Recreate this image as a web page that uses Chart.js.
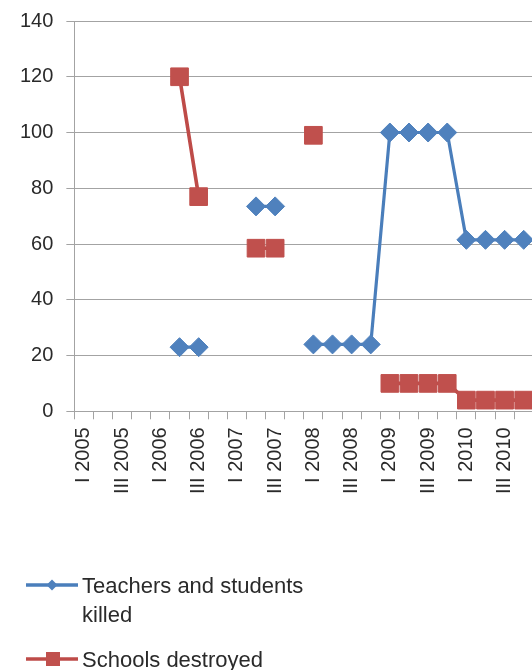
<!DOCTYPE html>
<html>
<head>
<meta charset="utf-8">
<script src="https://cdn.jsdelivr.net/npm/chart.js@4/dist/chart.umd.min.js"></script>
<style>
  html, body { margin: 0; padding: 0; background: #ffffff; overflow: hidden; }
  #wrap { position: relative; width: 532px; height: 670px; overflow: hidden; }
</style>
</head>
<body>
<div id="wrap"><canvas id="c" width="556" height="670"></canvas></div>
<script>
// ---- data ----
const categories = [
  "I 2005","II 2005","III 2005","IV 2005",
  "I 2006","II 2006","III 2006","IV 2006",
  "I 2007","II 2007","III 2007","IV 2007",
  "I 2008","II 2008","III 2008","IV 2008",
  "I 2009","II 2009","III 2009","IV 2009",
  "I 2010","II 2010","III 2010","IV 2010"
];
const teachersKilled = [null,null,null,null, null,23,23,null, null,73.5,73.5,null, 24,24,24,24, 100,100,100,100, 61.5,61.5,61.5,61.5];
const schoolsDestroyed = [null,null,null,null, null,120,77,null, null,58.5,58.5,null, 99,null,null,null, 10,10,10,10, 4,4,4,4];
const seriesLabels = ["Teachers and students killed", "Schools destroyed"];
const yTicks = [0, 20, 40, 60, 80, 100, 120, 140];

const BLUE = "#4A7EBB";
const BLUE_FILL = "#4F81BD";
const RED = "#BE4B48";
const RED_FILL = "#C0504D";
const GRID = "#a3a3a3";
const TEXT = "#2a2a2a";
const FONT = "Liberation Sans";

// legend drawn on canvas with word wrap
const legendPlugin = {
  id: "wrapLegend",
  afterDraw(chart) {
    const ctx = chart.ctx;
    ctx.save();
    ctx.font = "22px '" + FONT + "'";
    ctx.fillStyle = TEXT;
    ctx.textBaseline = "alphabetic";
    ctx.textAlign = "left";
    const items = chart.data.datasets;
    const startY = [585, 659];
    items.forEach((ds, k) => {
      const cy = startY[k];
      ctx.strokeStyle = ds.borderColor;
      ctx.lineWidth = 3.5;
      ctx.beginPath();
      ctx.moveTo(26, cy);
      ctx.lineTo(78, cy);
      ctx.stroke();
      ctx.fillStyle = ds.pointBackgroundColor;
      ctx.beginPath();
      if (ds.pointStyle === "rectRot") {
        const r = 5.5;
        ctx.moveTo(52 - r, cy); ctx.lineTo(52, cy - r); ctx.lineTo(52 + r, cy); ctx.lineTo(52, cy + r);
        ctx.closePath();
      } else {
        ctx.rect(53 - 7, cy - 7, 14, 14);
      }
      ctx.fill();
      // text with wrap
      ctx.fillStyle = TEXT;
      const words = ds.label.split(" ");
      const lines = [];
      let cur = "";
      words.forEach(w => {
        const t = cur ? cur + " " + w : w;
        if (ctx.measureText(t).width > 245 && cur) { lines.push(cur); cur = w; }
        else cur = t;
      });
      if (cur) lines.push(cur);
      lines.forEach((ln, j) => ctx.fillText(ln, 82, cy + 7.5 + j * 29));
    });
    ctx.restore();
  }
};

new Chart(document.getElementById("c"), {
  type: "line",
  data: {
    labels: categories,
    datasets: [
      {
        label: seriesLabels[0],
        data: teachersKilled,
        borderColor: BLUE,
        backgroundColor: BLUE_FILL,
        pointBackgroundColor: BLUE_FILL,
        pointBorderColor: BLUE_FILL,
        pointBorderWidth: 1,
        pointStyle: "rectRot",
        pointRadius: 9.5,
        borderWidth: 3.2,
        spanGaps: false,
        tension: 0,
        order: 1
      },
      {
        label: seriesLabels[1],
        data: schoolsDestroyed,
        borderColor: RED,
        backgroundColor: RED_FILL,
        pointBackgroundColor: RED_FILL,
        pointBorderColor: RED_FILL,
        pointBorderWidth: 1,
        pointStyle: "rect",
        pointRadius: 12.5,
        borderWidth: 3.6,
        spanGaps: false,
        tension: 0,
        order: 0
      }
    ]
  },
  options: {
    responsive: false,
    animation: false,
    devicePixelRatio: 1,
    layout: { padding: { left: 7, right: 0, top: 21, bottom: 168 } },
    plugins: {
      legend: { display: false },
      tooltip: { enabled: false }
    },
    scales: {
      x: {
        type: "category",
        offset: true,
        grid: {
          offset: true,
          drawOnChartArea: false,
          drawTicks: true,
          tickLength: 8,
          color: GRID,
          lineWidth: 1
        },
        border: { display: true, color: GRID, width: 1 },
        ticks: {
          autoSkip: false,
          minRotation: 90,
          maxRotation: 90,
          padding: 8,
          color: TEXT,
          font: { family: FONT, size: 20 },
          callback: function(value, index) {
            return index % 2 === 0 ? categories[index] : "";
          }
        }
      },
      y: {
        min: yTicks[0],
        max: yTicks[yTicks.length - 1],
        afterBuildTicks: (axis) => { axis.ticks = yTicks.map(v => ({ value: v })); },
        afterFit: (axis) => { axis.paddingTop = 0; axis.paddingBottom = 0; },
        grid: {
          color: GRID,
          lineWidth: 1,
          drawTicks: true,
          tickLength: 8
        },
        border: { display: true, color: GRID, width: 1 },
        ticks: {
          padding: 13,
          color: TEXT,
          font: { family: FONT, size: 20 }
        }
      }
    }
  },
  plugins: [legendPlugin]
});
</script>
</body>
</html>
